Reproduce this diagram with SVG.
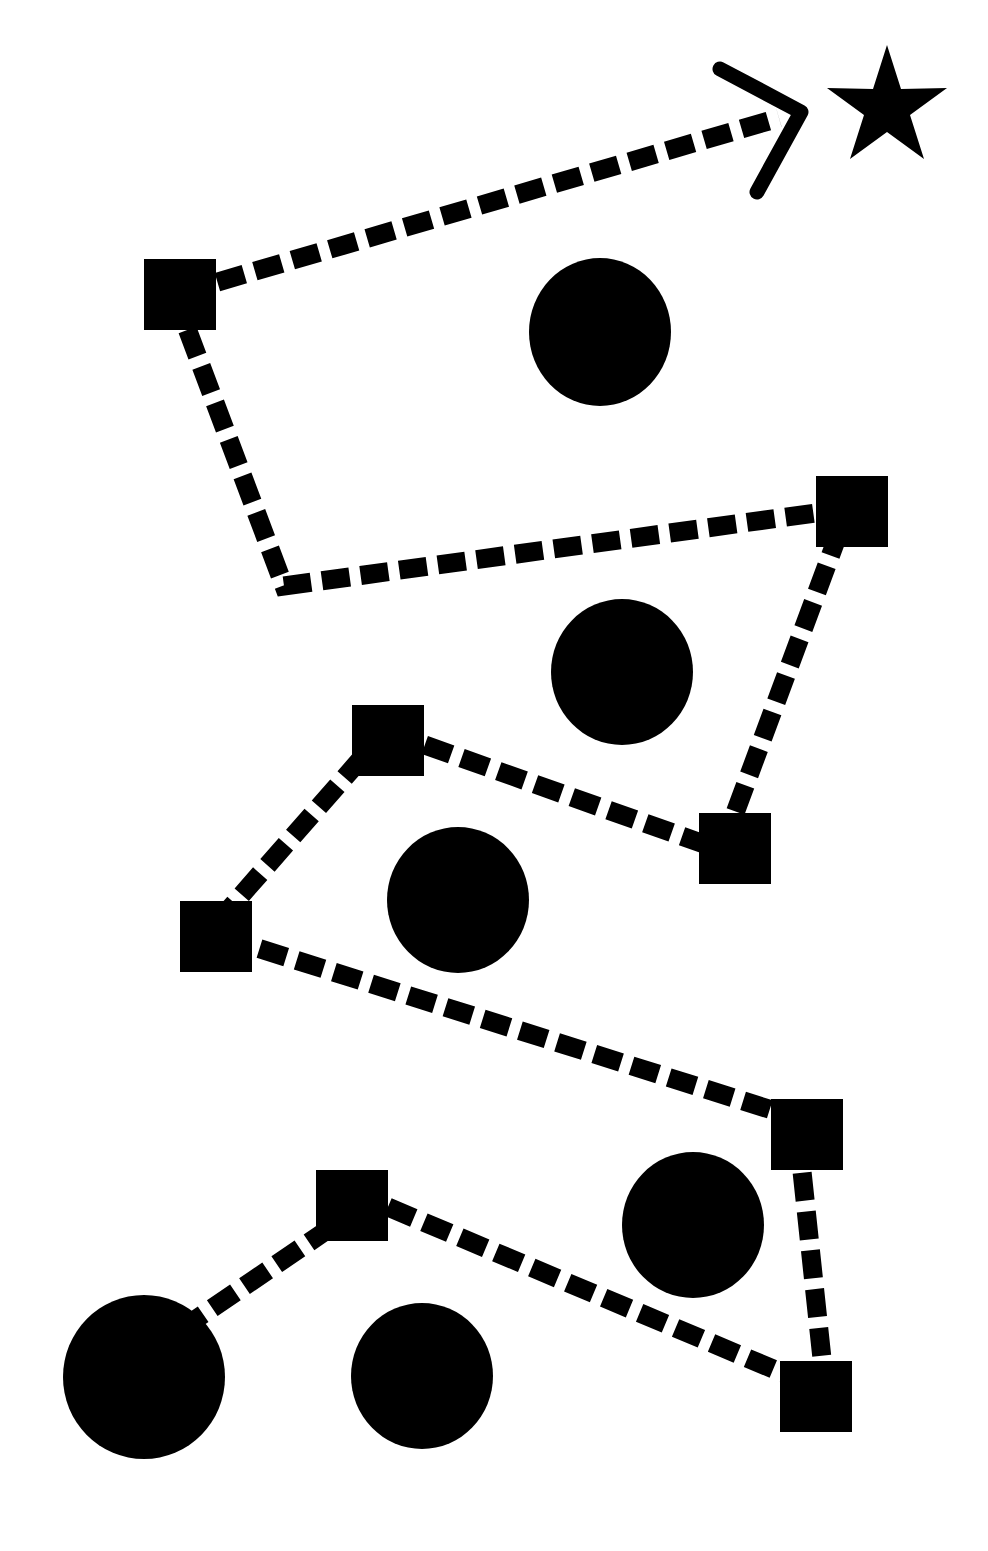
<svg xmlns="http://www.w3.org/2000/svg" width="988" height="1551" viewBox="0 0 988 1551">
<style>
.bg{fill:#ffffff}
.edge{fill:none;stroke:#000;stroke-width:19;stroke-dasharray:28 11;stroke-linejoin:miter}
.sq{fill:#000}
.ci{fill:#000}
.arrow{fill:none;stroke:#000;stroke-width:15;stroke-linecap:round;stroke-linejoin:round}
</style>
<rect class="bg" x="0" y="0" width="988" height="1551"/>
<g id="connectors">
<path class="edge" d="M180,1330 L330,1228"/>
<path class="edge" d="M352,1192 L816,1387"/>
<path class="edge" d="M798,1134 L826,1396"/>
<path class="edge" d="M807,1121 L216,935"/>
<path class="edge" d="M216,924 L388,728"/>
<path class="edge" d="M388,732 L735,855"/>
<path class="edge" d="M722,848 L847,511"/>
<path class="edge" d="M852,508 L284,586 L174,294"/>
<path class="edge" d="M180,293 L779,118"/>
<polyline class="arrow" points="720,69 801,112 757,192"/>
</g>
<g id="node-star"><polygon fill="#000" points="887,45 901,89 947,88 910,115 924,159 887,132 850,159 864,115 827,88 873,89"/></g>
<g id="node-s1"><rect class="sq" x="144" y="259" width="72" height="71"/></g>
<g id="node-s2"><rect class="sq" x="816" y="476" width="72" height="71"/></g>
<g id="node-s3"><rect class="sq" x="352" y="705" width="72" height="71"/></g>
<g id="node-s4"><rect class="sq" x="699" y="813" width="72" height="71"/></g>
<g id="node-s5"><rect class="sq" x="180" y="901" width="72" height="71"/></g>
<g id="node-s6"><rect class="sq" x="771" y="1099" width="72" height="71"/></g>
<g id="node-s7"><rect class="sq" x="316" y="1170" width="72" height="71"/></g>
<g id="node-s8"><rect class="sq" x="780" y="1361" width="72" height="71"/></g>
<g id="node-c1"><ellipse class="ci" cx="600" cy="332" rx="71" ry="74"/></g>
<g id="node-c2"><ellipse class="ci" cx="622" cy="672" rx="71" ry="73"/></g>
<g id="node-c3"><ellipse class="ci" cx="458" cy="900" rx="71" ry="73"/></g>
<g id="node-c4"><ellipse class="ci" cx="693" cy="1225" rx="71" ry="73"/></g>
<g id="node-c5"><ellipse class="ci" cx="422" cy="1376" rx="71" ry="73"/></g>
<g id="node-c6"><ellipse class="ci" cx="144" cy="1377" rx="81" ry="82"/></g>
</svg>
